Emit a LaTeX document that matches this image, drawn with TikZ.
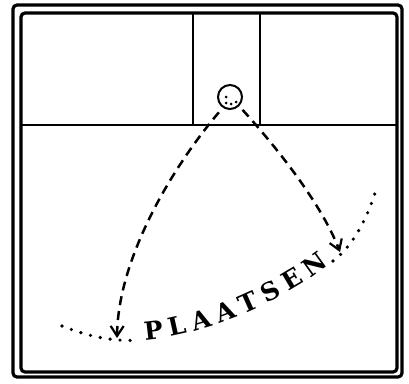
\documentclass[tikz,border=0pt]{standalone}
\usepackage{fontspec}
\newfontfamily\signfont{DejaVu Serif}
\usetikzlibrary{arrows.meta,decorations.text}
\begin{document}
\begin{tikzpicture}[x=1pt,y=-1pt,>={Straight Barb[length=10pt,width=13pt,line width=2.2pt]},
  wall/.style={line width=3.2pt,rounded corners=4pt},
  flight/.style={->,line width=2.5pt,dash pattern=on 9pt off 6pt},
  dots/.style={line width=3.6pt,line cap=round,dash pattern=on 0pt off 10pt}]
\useasboundingbox (0,0) rectangle (409,383);
\draw[wall] (13,5) rectangle (402,377);
\draw[wall] (21,13) rectangle (397,372);
\draw[line width=2.5pt] (21,125) -- (397,125);
\draw[line width=2.5pt] (193,13) -- (193,125);
\draw[line width=2.5pt] (260,13) -- (260,125);
\node (ball) [circle,draw,line width=2pt,minimum size=24pt,inner sep=0pt] at (230,97) {};
\foreach \p in {(226,97),(226,103),(231,104),(236,102)} \fill \p circle (1.5pt);
\coordinate (tipL) at (117,338);
\coordinate (tipR) at (340,252);
\draw[flight,shorten <=6pt] (ball.236) .. controls (170,170) and (118,260) .. (tipL);
\draw[flight,shorten <=5pt] (ball.-45) .. controls (270,140) and (320,200) .. (tipR);
\draw[dots] (62,326) .. controls (90,337) and (115,342) .. (140,340);
\path[decorate,decoration={text along path,text align=fit to path,
  text={|\signfont\bfseries\fontsize{25}{25}\selectfont|PLAATSEN}}]
  (145,340) .. controls (205,336) and (285,300) .. (329,265);
\draw[dots] (333,261) .. controls (350,248) and (365,225) .. (376,190);
\end{tikzpicture}
\end{document}
